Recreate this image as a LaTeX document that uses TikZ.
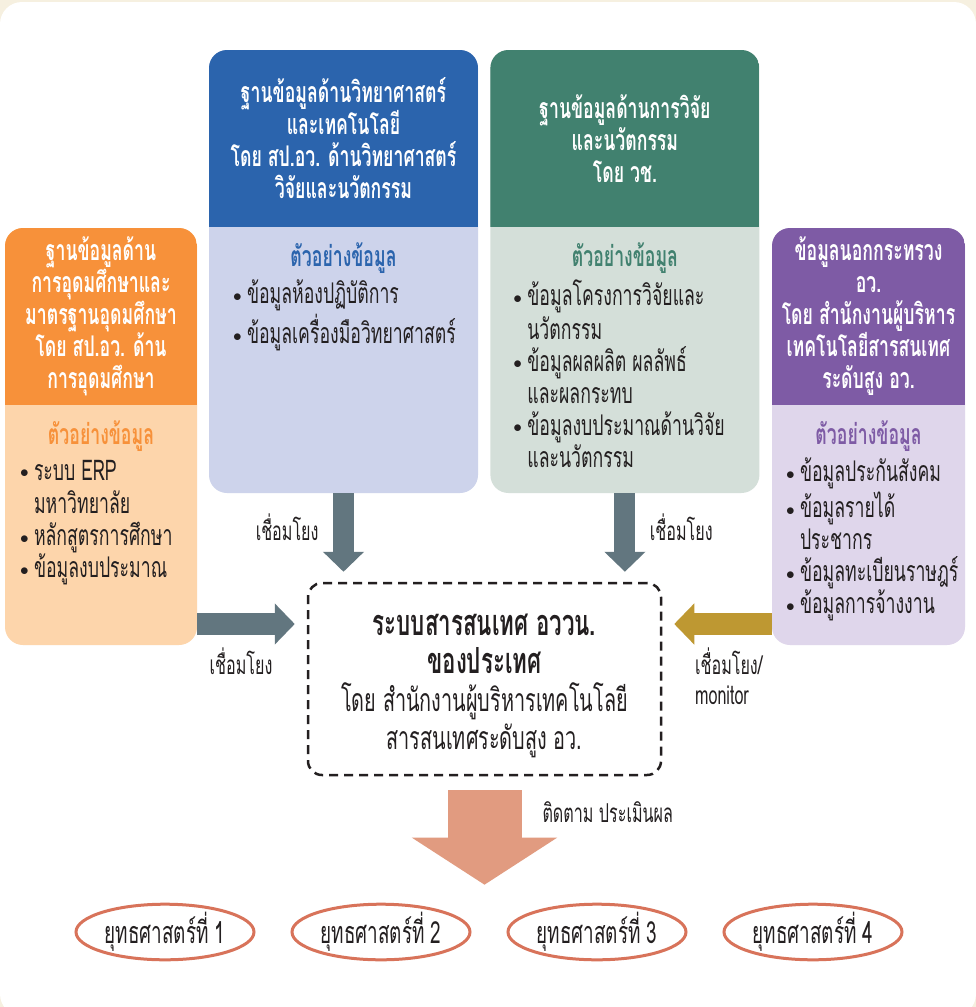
\documentclass[tikz,border=0pt]{standalone}
\usepackage{fontspec}
\setmainfont[Script=Thai,FakeStretch=0.62]{Loma}
\usepackage{tikz}
\usetikzlibrary{calc}
\usetikzlibrary{positioning}
\usetikzlibrary{shapes.geometric}
\usetikzlibrary{arrows.meta}

\definecolor{cream}{HTML}{F6F0E0}
\definecolor{ink}{HTML}{231F20}
\definecolor{blueH}{HTML}{2B64AD}
\definecolor{blueB}{HTML}{CDD3EB}
\definecolor{greenH}{HTML}{41816F}
\definecolor{greenB}{HTML}{D4DFD9}
\definecolor{orangeH}{HTML}{F7913A}
\definecolor{orangeB}{HTML}{FDD5AB}
\definecolor{purpleH}{HTML}{7E5BA5}
\definecolor{purpleB}{HTML}{DFD6EB}
\definecolor{arrowgray}{HTML}{62767F}
\definecolor{gold}{HTML}{BE9832}
\definecolor{salmon}{HTML}{E19B80}
\definecolor{ring}{HTML}{D8735A}

\newcommand{\lsbul}{\makebox[14pt][l]{\raisebox{2.5pt}{\fontsize{17}{17}\selectfont$\bullet$}}}
\newcommand{\lsind}{\hspace*{14pt}}

\tikzset{
    dbbox/.style 2 args={
           rectangle,
           rounded corners=18pt,
           fill=#2,
           inner sep=0pt,
           path picture={\fill[#1,sharp corners] (path picture bounding box.north west)
                 rectangle ([yshift=-177pt]path picture bounding box.north east);},
           },
    headtxt/.style={
           text=white,
           font=\bfseries\fontsize{28.5}{32}\selectfont,
           align=center,
           },
    subtxt/.style={font=\bfseries\fontsize{28.5}{32}\selectfont},
    listtxt/.style={
           text=ink,
           font=\fontsize{28.5}{32}\selectfont,
           align=left,
           anchor=north west,
           inner sep=0pt,
           },
    corebox/.style={
           rectangle,
           rounded corners=14pt,
           draw=ink, line width=2.5pt,
           dash pattern=on 9pt off 6pt,
           minimum width=353pt, minimum height=192pt,
           },
    coretxt/.style={align=center, text=ink, font=\fontsize{32}{38}\selectfont},
    lnk/.style={line width=21pt, draw=arrowgray, -{Triangle[width=40pt,length=20pt]}},
    lbl/.style={text=ink, font=\fontsize{26}{30}\selectfont, inner sep=0pt, outer sep=0pt},
    goal/.style={
           ellipse,
           draw=ring, line width=3pt,
           minimum width=178pt, minimum height=50pt,
           inner sep=0pt, text=ink,
           font=\fontsize{30.5}{30}\selectfont,
           },
}

\begin{document}
\begin{tikzpicture}[x=1pt,y=-1pt]
    \useasboundingbox (0,0) rectangle (976,1007);
    \fill[cream] (0,0) rectangle (976,1007);
    \fill[white, rounded corners=22pt] (0,2) rectangle (976,1016);

    % source databases
    \node[dbbox={blueH}{blueB}, minimum width=269pt, minimum height=443pt] (db_2) at (343.5,271.5) {};
    \node[dbbox={greenH}{greenB}, minimum width=269pt, minimum height=443pt, right=12pt of db_2] (db_3) {};
    \node[dbbox={orangeH}{orangeB}, minimum width=192pt, minimum height=417pt] (db_1) at (101,436.5) {};
    \node[dbbox={purpleH}{purpleB}, minimum width=193pt, minimum height=417pt] (db_4) at (868.5,436.5) {};

    \node[headtxt] (h_1) at ([yshift=-88.5pt]db_1.north) {ฐานข้อมูลด้าน\\การอุดมศึกษาและ\\มาตรฐานอุดมศึกษา\\โดย สป.อว. ด้าน\\การอุดมศึกษา};
    \node[headtxt] (h_2) at ([yshift=-88.5pt]db_2.north) {ฐานข้อมูลด้านวิทยาศาสตร์\\และเทคโนโลยี\\โดย สป.อว. ด้านวิทยาศาสตร์\\วิจัยและนวัตกรรม};
    \node[headtxt] (h_3) at ([yshift=-88.5pt]db_3.north) {ฐานข้อมูลด้านการวิจัย\\และนวัตกรรม\\โดย วช.};
    \node[headtxt] (h_4) at ([yshift=-88.5pt]db_4.north) {ข้อมูลนอกกระทรวง\\อว.\\โดย สำนักงานผู้บริหาร\\เทคโนโลยีสารสนเทศ\\ระดับสูง อว.};

    \node[subtxt, text=orangeH] (t_1) at ([yshift=-208pt]db_1.north) {ตัวอย่างข้อมูล};
    \node[subtxt, text=blueH] (t_2) at ([yshift=-208pt]db_2.north) {ตัวอย่างข้อมูล};
    \node[subtxt, text=greenH] (t_3) at ([yshift=-208pt]db_3.north) {ตัวอย่างข้อมูล};
    \node[subtxt, text=purpleH] (t_4) at ([yshift=-208pt]db_4.north) {ตัวอย่างข้อมูล};

    \node[listtxt] (l_1) at ([xshift=15pt,yshift=-230pt]db_1.north west)
        {\strut\lsbul ระบบ ERP\\\lsind มหาวิทยาลัย\\\lsbul หลักสูตรการศึกษา\\\lsbul ข้อมูลงบประมาณ};
    \node[listtxt] (l_2) at ([xshift=24pt,yshift=-230pt]db_2.north west)
        {\strut\lsbul ข้อมูลห้องปฏิบัติการ\\\lsbul ข้อมูลเครื่องมือวิทยาศาสตร์};
    \node[listtxt] (l_3) at ([xshift=23pt,yshift=-230pt]db_3.north west)
        {\strut\lsbul ข้อมูลโครงการวิจัยและ\\\lsind นวัตกรรม\\\lsbul ข้อมูลผลผลิต ผลลัพธ์\\\lsind และผลกระทบ\\\lsbul ข้อมูลงบประมาณด้านวิจัย\\\lsind และนวัตกรรม};
    \node[listtxt] (l_4) at ([xshift=14pt,yshift=-230pt]db_4.north west)
        {\strut\lsbul ข้อมูลประกันสังคม\\\lsbul ข้อมูลรายได้\\\lsind ประชากร\\\lsbul ข้อมูลทะเบียนราษฎร์\\\lsbul ข้อมูลการจ้างงาน};

    % national system
    \node[corebox] (hub) at (484.5,679) {};
    \node[coretxt] (hub_t) at ([yshift=-7pt]hub.center)
        {{\bfseries\fontsize{36}{38}\selectfont ระบบสารสนเทศ อววน.}\\{\bfseries\fontsize{36}{38}\selectfont ของประเทศ}\\โดย สำนักงานผู้บริหารเทคโนโลยี\\สารสนเทศระดับสูง อว.};

    % strategies
    \node[goal] (st_1) at (165,932) {ยุทธศาสตร์ที่ 1};
    \node[goal, right=35pt of st_1] (st_2) {ยุทธศาสตร์ที่ 2};
    \node[goal, right=35pt of st_2] (st_3) {ยุทธศาสตร์ที่ 3};
    \node[goal, right=35pt of st_3] (st_4) {ยุทธศาสตร์ที่ 4};

    \coordinate (y_in) at (0,624);
    \draw[lnk, shorten >=10pt] (db_2.south) -- (db_2.south |- hub.north)
        node[lbl, pos=.38, left=25pt] {เชื่อมโยง};
    \draw[lnk, shorten >=10pt] (db_3.south) -- (db_3.south |- hub.north)
        node[lbl, pos=.38, right=25pt] {เชื่อมโยง};
    \draw[lnk, line width=22pt, shorten >=12pt] (db_1.east |- y_in) -- (hub.west |- y_in)
        node[lbl, pos=.4, below=24pt] {เชื่อมโยง};
    \draw[lnk, line width=22pt, draw=gold, shorten >=12pt] (db_4.west |- y_in) -- (hub.east |- y_in)
        node[lbl, pos=.7, below right=24pt and 0pt, align=left] {เชื่อมโยง/\\monitor};
    \draw[line width=74pt, draw=salmon, -{Triangle[width=143pt,length=47pt]}, shorten <=14pt, shorten >=18pt]
        (hub.south) -- (hub.south |- st_2.north)
        node[lbl, pos=.28, right=58pt] {ติดตาม ประเมินผล};
\end{tikzpicture}
\end{document}
